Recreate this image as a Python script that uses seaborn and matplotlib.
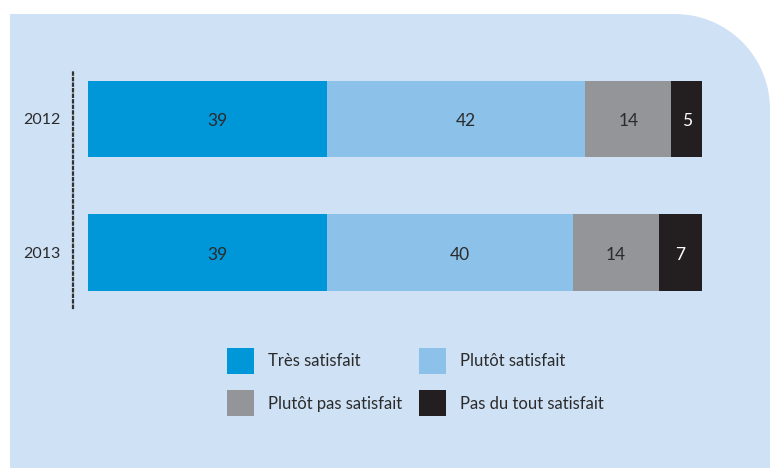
import matplotlib
matplotlib.use("Agg")
import numpy as np
import pandas as pd
import matplotlib.pyplot as plt
import matplotlib.transforms as mtransforms
import seaborn as sns
from matplotlib.patches import Rectangle, Circle, Patch

# data
years = ["2012", "2013"]
categories = ["Très satisfait", "Plutôt satisfait", "Plutôt pas satisfait", "Pas du tout satisfait"]
tres = [39, 39]
plutot = [42, 40]
plutot_pas = [14, 14]
pas_du_tout = [5, 7]

colors = ["#0097d9", "#8cc1e9", "#949598", "#231f20"]
label_colors = ["#2b2b2b", "#2b2b2b", "#2b2b2b", "#ffffff"]
BG = "#cfe1f5"

W, H = 770, 468


def main():
    sns.set_theme(style="white")
    plt.rcParams["font.family"] = ["Lato", "DejaVu Sans"]
    plt.rcParams["text.color"] = "#2b2b2b"

    fig = plt.figure(figsize=(W / 100, H / 100), dpi=100)
    fig.patch.set_facecolor("white")

    # background panel with rounded top-right corner (pixel coordinates)
    bg = fig.add_axes([0, 0, 1, 1], zorder=-1)
    bg.set_xlim(0, W)
    bg.set_ylim(H, 0)
    bg.axis("off")
    R = 95
    left, top = 10, 14
    bg.add_patch(Rectangle((left, top), W - R - left, H - top, color=BG, lw=0))
    bg.add_patch(Rectangle((left, top + R), W - left, H - top - R, color=BG, lw=0))
    bg.add_patch(Circle((W - R, top + R), R, color=BG, lw=0))

    series = [tres, plutot, plutot_pas, pas_du_tout]
    df = pd.DataFrame({"year": years})
    cum = np.cumsum(np.array(series), axis=0)
    for i, cat in enumerate(categories):
        df[cat] = series[i]
        df[cat + "_cum"] = cum[i]

    # main axes: spine at x=73px, 100% at x=702px, vertical range 70..308px
    ax = fig.add_axes([73 / W, 1 - 308 / H, (702 - 73) / W, (308 - 70) / H])
    ax.patch.set_alpha(0)

    px_per_unit = (702 - 88) / 100
    for i in reversed(range(len(categories))):
        sns.barplot(data=df, x=categories[i] + "_cum", y="year", orient="h",
                    color=colors[i], saturation=1, width=0.573, linewidth=0, ax=ax)

    # value labels (the two first segments have their labels nudged right, as in the original)
    nudge = [7, 7, 0, 0]
    for j, yr in enumerate(years):
        start = 0
        for i, cat in enumerate(categories):
            v = series[i][j]
            tr = ax.transData + mtransforms.ScaledTranslation(nudge[i] / 72, 0, fig.dpi_scale_trans)
            ax.text(start + v / 2, j + 0.015, str(v), ha="center", va="center",
                    fontsize=12.5, color=label_colors[i], transform=tr)
            start += v

    ax.set_xlim(-15 / px_per_unit, 100)
    ax.set_ylim(1 + (308 - 252.5) / 133.5, -(119 - 70) / 133.5)
    ax.set_xlabel("")
    ax.set_ylabel("")
    ax.set_xticks([])
    ax.tick_params(axis="y", length=0, pad=9, labelsize=11.5, labelcolor="#2b2b2b")
    for s in ["top", "right", "bottom"]:
        ax.spines[s].set_visible(False)
    ax.spines["left"].set_linestyle((0, (1, 1.5)))
    ax.spines["left"].set_linewidth(1.6)
    ax.spines["left"].set_color("#333333")

    # legend filled row by row: column-major order for ncol=2
    order = [0, 2, 1, 3]
    handles = [Patch(facecolor=colors[k], edgecolor="none") for k in order]
    labels = [categories[k] for k in order]
    fig.legend(handles, labels, ncol=2, loc="upper left",
               bbox_to_anchor=(227 / W, 1 - 348 / H), frameon=False,
               fontsize=12, handlelength=1.6, handleheight=2.02,
               handletextpad=0.85, columnspacing=1.05, labelspacing=0.98,
               borderpad=0, borderaxespad=0)

    fig.savefig("out.png", dpi=100, facecolor="white")


if __name__ == "__main__":
    main()
